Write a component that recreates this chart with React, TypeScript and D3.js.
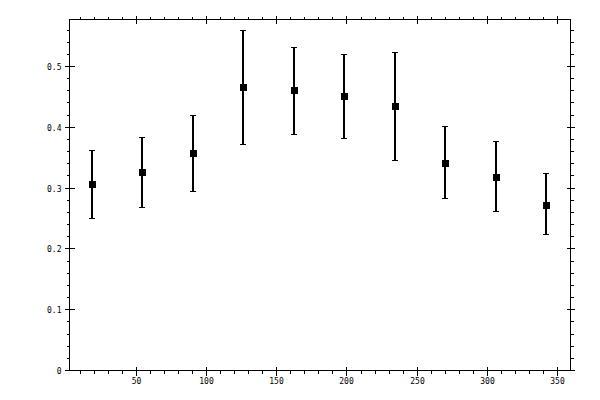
import React, { useRef, useEffect } from "react";
import * as d3 from "d3";

const xValues = [18, 54, 90, 126, 162, 198, 234, 270, 306, 342];
const means = [0.306, 0.326, 0.357, 0.466, 0.461, 0.451, 0.435, 0.342, 0.319, 0.273];
const lows = [0.25, 0.268, 0.295, 0.372, 0.388, 0.382, 0.346, 0.283, 0.262, 0.224];
const highs = [0.362, 0.384, 0.42, 0.56, 0.532, 0.52, 0.523, 0.402, 0.377, 0.324];

const xMajor = [50, 100, 150, 200, 250, 300, 350];
const yMajor = [0, 0.1, 0.2, 0.3, 0.4, 0.5];

const ErrorBarChart: React.FC = () => {
  const svgRef = useRef<SVGSVGElement | null>(null);

  useEffect(() => {
    const svg = d3.select(svgRef.current);
    svg.selectAll("*").remove();

    const left = 69.5;
    const right = 570.5;
    const top = 19.5;
    const bottom = 370.5;

    const x = d3.scaleLinear().domain([2.26, 359.3]).range([left, right]);
    const y = d3.scaleLinear().domain([0, 0.5773]).range([bottom, top]);
    const px = (v: number) => Math.round(x(v) - 0.5) + 0.5;
    const py = (v: number) => Math.round(y(v) - 0.5) + 0.5;

    const g = svg
      .append("g")
      .attr("stroke", "#000")
      .attr("shape-rendering", "crispEdges");

    // frame
    g.append("rect")
      .attr("x", left)
      .attr("y", top)
      .attr("width", right - left)
      .attr("height", bottom - top)
      .attr("fill", "none");

    // x ticks, bottom and top
    const xMinor = d3.range(10, 360, 10).filter((v) => v % 50 !== 0);
    xMinor.forEach((v) => {
      g.append("line").attr("x1", px(v)).attr("x2", px(v)).attr("y1", bottom).attr("y2", bottom + 3);
      g.append("line").attr("x1", px(v)).attr("x2", px(v)).attr("y1", top).attr("y2", top - 3);
    });
    xMajor.forEach((v) => {
      g.append("line").attr("x1", px(v)).attr("x2", px(v)).attr("y1", bottom - 4).attr("y2", bottom + 5);
      g.append("line").attr("x1", px(v)).attr("x2", px(v)).attr("y1", top - 4).attr("y2", top + 4);
    });

    // y ticks, left and right
    const yMinor = d3.range(0.02, 0.58, 0.02).filter((v) => Math.round(v * 50) % 5 !== 0);
    yMinor.forEach((v) => {
      g.append("line").attr("y1", py(v)).attr("y2", py(v)).attr("x1", left).attr("x2", left - 3);
      g.append("line").attr("y1", py(v)).attr("y2", py(v)).attr("x1", right).attr("x2", right + 3);
    });
    yMajor.forEach((v) => {
      g.append("line").attr("y1", py(v)).attr("y2", py(v)).attr("x1", left - 5).attr("x2", left + 5);
      g.append("line").attr("y1", py(v)).attr("y2", py(v)).attr("x1", right - 4).attr("x2", right + 4);
    });

    const labels = svg
      .append("g")
      .attr("font-family", "'DejaVu Sans Mono', monospace")
      .attr("font-size", 8)
      .attr("fill", "#000");

    labels
      .selectAll(".xl")
      .data(xMajor)
      .enter()
      .append("text")
      .attr("x", (d) => px(d))
      .attr("y", bottom + 13)
      .attr("text-anchor", "middle")
      .text((d) => d);

    labels
      .selectAll(".yl")
      .data(yMajor)
      .enter()
      .append("text")
      .attr("x", left - 8)
      .attr("y", (d) => py(d) + 3)
      .attr("text-anchor", "end")
      .text((d) => (d === 0 ? "0" : d3.format(".1f")(d)));

    // error bars
    const bars = svg
      .append("g")
      .attr("stroke", "#000")
      .attr("shape-rendering", "crispEdges");

    xValues.forEach((xv, i) => {
      const cx = Math.round(x(xv));
      bars.append("line")
        .attr("x1", cx).attr("x2", cx)
        .attr("y1", py(highs[i])).attr("y2", py(lows[i]))
        .attr("stroke-width", 2);
      [highs[i], lows[i]].forEach((v) => {
        bars.append("line")
          .attr("x1", cx - 3).attr("x2", cx + 3)
          .attr("y1", py(v)).attr("y2", py(v));
      });
    });

    svg
      .append("g")
      .selectAll("rect")
      .data(xValues)
      .enter()
      .append("rect")
      .attr("x", (d) => Math.round(x(d)) - 3.5)
      .attr("y", (d, i) => Math.round(y(means[i])) - 3.5)
      .attr("width", 7)
      .attr("height", 7)
      .attr("fill", "#000")
      .attr("shape-rendering", "crispEdges");
  }, []);

  return (
    <svg
      ref={svgRef}
      width={600}
      height={400}
      style={{ position: "absolute", left: 0, top: 0, background: "#fff" }}
    />
  );
};

export default function App() {
  return <ErrorBarChart />;
}
